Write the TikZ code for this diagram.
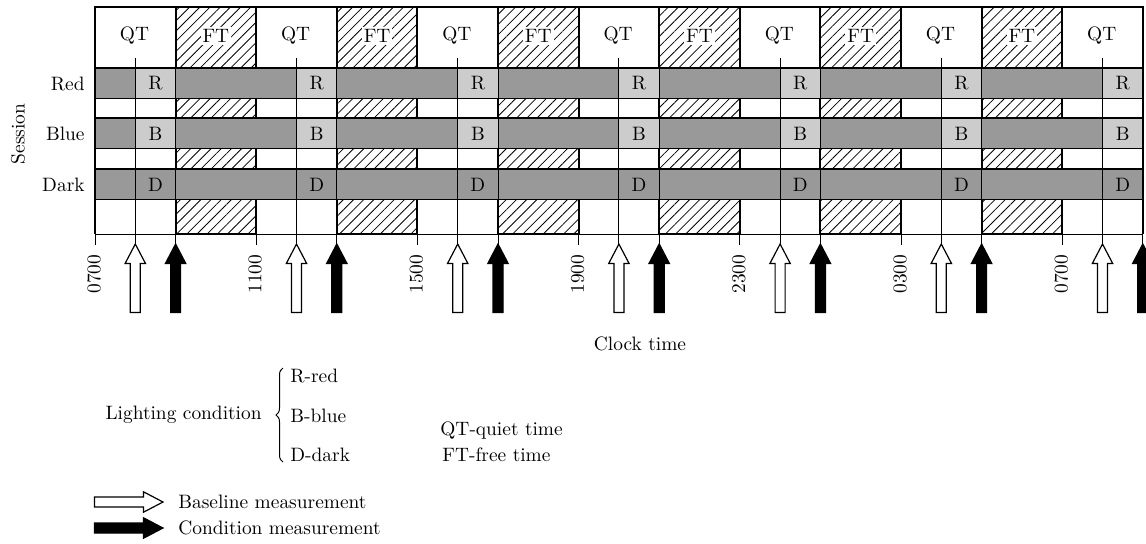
\documentclass[tikz,border=0pt]{standalone}
\usepackage{fontspec}
\usetikzlibrary{patterns.meta,decorations.pathreplacing}
\definecolor{rowgray}{gray}{0.6}
\definecolor{cellgray}{gray}{0.8}
\tikzset{
  lbl/.style={inner sep=1pt},
  ftcol/.style={draw,line width=1pt,pattern={Lines[angle=45,distance=3.6pt,line width=0.4pt]}},
  rowbar/.style={draw,fill=rowgray,line width=0.6pt},
  cellbox/.style={draw,line width=0.5pt},
  mline/.style={line width=0.5pt}
}
% fat arrow, tip at #1, fill #2, turned by #3
\newcommand\measarrow[3]{%
  \filldraw[fill=#2,line width=0.6pt,shift={(#1)},rotate=#3]
    (0,0) -- (10.2,19.5) -- (5,19.5) -- (5,68.5) -- (-5,68.5) -- (-5,19.5) -- (-10.2,19.5) -- cycle;}
\begin{document}
\begin{tikzpicture}[x=0.5pt,y=-0.5pt,font=\fontsize{9.7}{11.6}\selectfont]
\useasboundingbox (0,0) rectangle (1146,543);
\clip (0,0) rectangle (1146,543);

% free time columns
\foreach \k in {0,...,5} {
  \pgfmathsetmacro\xa{175.6+161.2*\k}
  \draw[ftcol] (\xa,7) rectangle (\xa+80.6,234);
  \node[lbl,fill=white] (ft\k) at (\xa+40.3,36) {FT};
}
\foreach \k in {0,...,6} {
  \pgfmathsetmacro\xa{95+161.2*\k}
  \node[lbl] (qt\k) at (\xa+39.5,36) {QT};
}
\draw[line width=0.8pt] (95,234) -- (95,7) -- (1143,7) -- (1143,234);
\draw[mline] (95,234) -- (1143,234);

% sessions
\foreach \nm/\y/\lt/\cc in {Red/68/R/cellgray,Blue/118/B/cellgray,Dark/169/D/rowgray} {
  \draw[rowbar] (95,\y) rectangle (1143,\y+30.5);
  \node[lbl,anchor=east] (\nm) at (87,\y+15.5) {\nm};
  \foreach \k in {0,...,6} {
    \pgfmathsetmacro\xa{135.3+161.2*\k}
    \draw[cellbox,fill=\cc] (\xa,\y) rectangle (\xa+40.3,\y+30.5);
    \node[lbl] (\lt\k) at (\xa+20.2,\y+15.5) {\lt};
  }
}
\node[lbl,rotate=90] (session) at (18,134) {Session};

% measurements
\foreach \k in {0,...,6} {
  \pgfmathsetmacro\xm{135.3+161.2*\k}
  \pgfmathsetmacro\xf{175.6+161.2*\k}
  \coordinate (bt\k) at (\xm,58);
  \coordinate (bb\k) at (\xm,244);
  \coordinate (ct\k) at (\xf,7);
  \coordinate (cb\k) at (\xf,244);
  \draw[mline] (bt\k) -- (bb\k);
  \draw[mline] (ct\k) -- (cb\k);
  \measarrow{bb\k}{white}{0}
  \measarrow{cb\k}{black}{0}
}

% clock
\foreach \tm [count=\k from 0] in {0700,1100,1500,1900,2300,0300,0700} {
  \pgfmathsetmacro\xa{95+161.2*\k}
  \draw[mline] (\xa,234) -- (\xa,245);
  \node[lbl,rotate=90] (tm\k) at (\xa-1,274) {\tm};
}
\node[lbl] (clock) at (640,344) {Clock time};

% legend
\node[lbl,anchor=base east] (light) at (264,419.5) {Lighting condition};
\draw[decorate,decoration={brace,amplitude=3.5pt},line width=0.5pt] (283,462) -- (283,368);
\node[lbl,anchor=base west] (lr) at (288,382) {R-red};
\node[lbl,anchor=base west] (lb) at (288,422) {B-blue};
\node[lbl,anchor=base west] (ld) at (288,461) {D-dark};
\node[lbl,anchor=base west] (lqt) at (438,435) {QT-quiet time};
\node[lbl,anchor=base west] (lft) at (440,461) {FT-free time};

\coordinate (kb) at (163,502);
\coordinate (kc) at (163,528);
\measarrow{kb}{white}{-90}
\measarrow{kc}{black}{-90}
\node[lbl,anchor=west] (base) at (176,502) {Baseline measurement};
\node[lbl,anchor=west] (cond) at (176,528) {Condition measurement};
\end{tikzpicture}
\end{document}
